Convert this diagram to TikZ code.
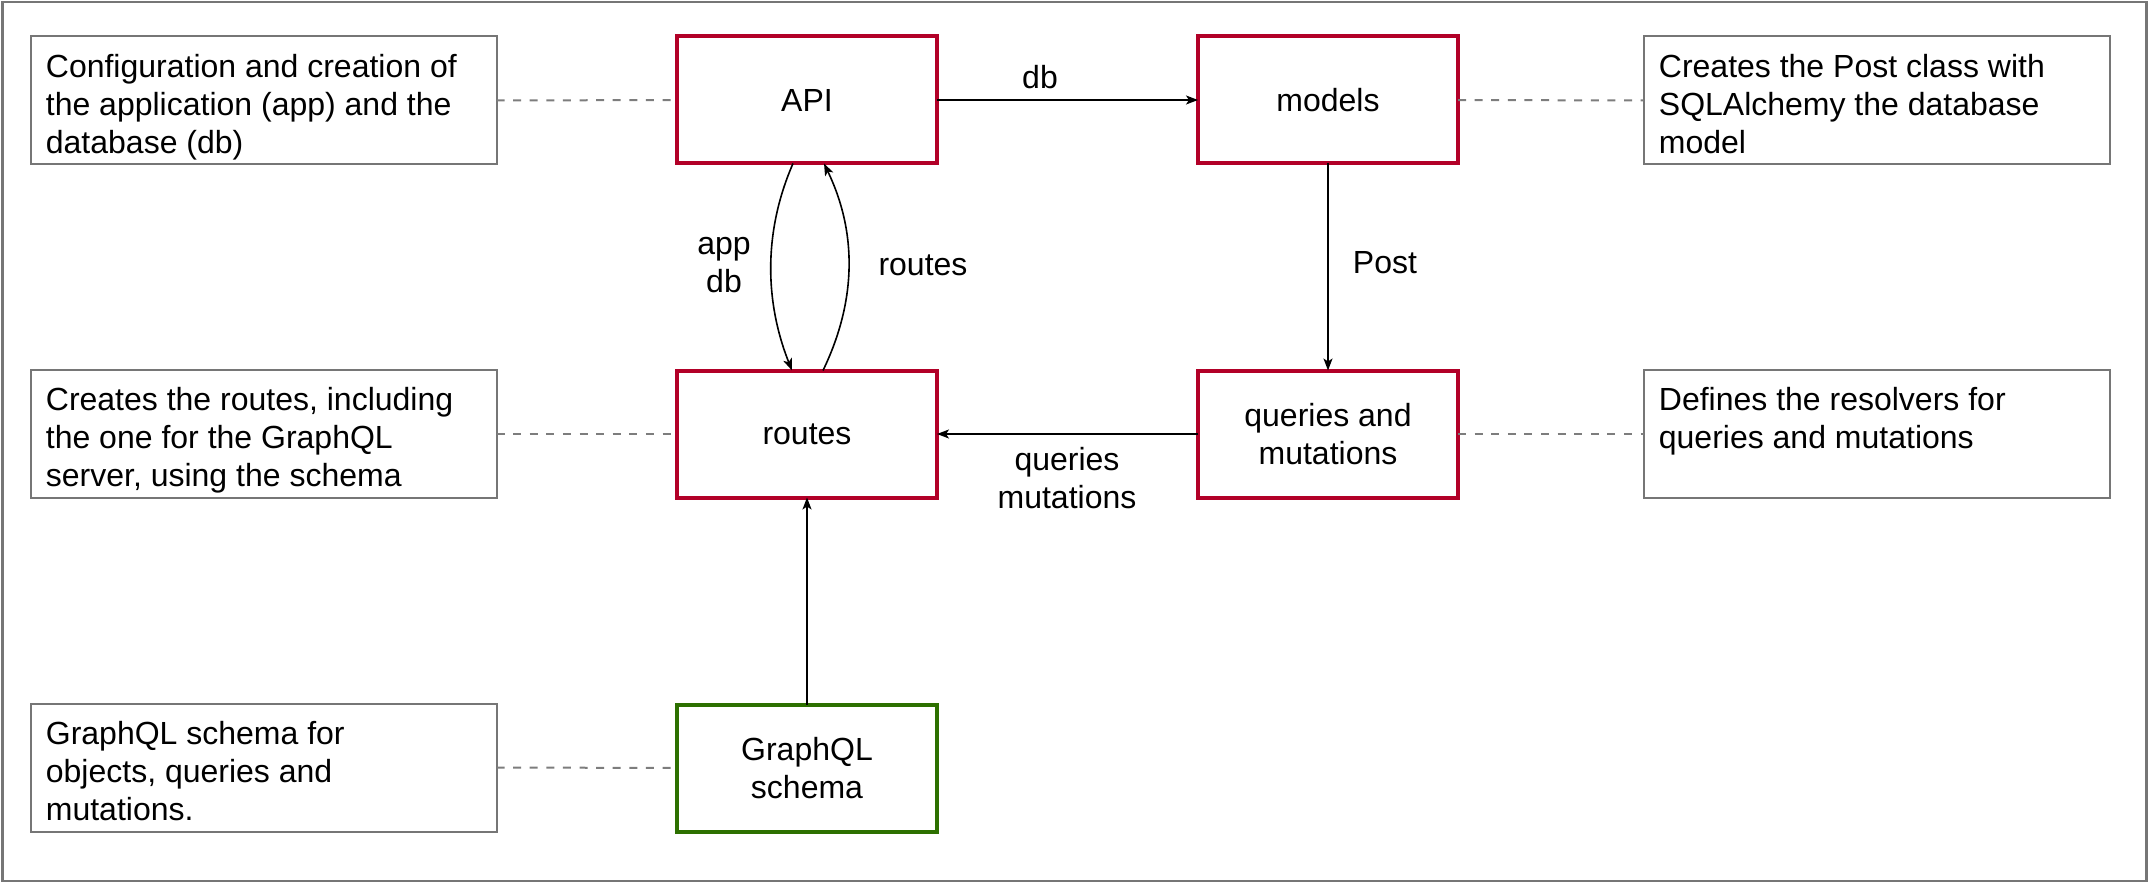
\documentclass[tikz,border=0pt]{standalone}
\usepackage{fontspec}
\setmainfont{Liberation Sans}
\usetikzlibrary{arrows.meta,calc}
\definecolor{boxred}{RGB}{178,0,40}
\definecolor{boxgreen}{RGB}{45,112,0}
\definecolor{framegray}{RGB}{118,118,118}
\definecolor{dashgray}{RGB}{125,125,125}
\tikzset{
  txt/.style={font=\fontsize{16pt}{19pt}\selectfont, text=black},
  mainbox/.style={draw=boxred, line width=2pt, fill=white, minimum width=130pt, minimum height=63.5pt, inner sep=0pt, outer sep=0pt, align=center, txt},
  greenbox/.style={mainbox, draw=boxgreen},
  notebox/.style={draw=framegray, line width=1pt, fill=white, minimum width=233pt, minimum height=64pt, inner sep=0pt, outer sep=0pt},
  notetext/.style={txt, align=left, anchor=north west, inner sep=0pt},
  lbl/.style={txt, align=center, inner sep=0pt},
  conn/.style={draw=black, line width=0.8pt, -{Stealth[length=6pt, width=4.5pt, inset=1.5pt]}},
  link/.style={draw=dashgray, line width=1pt, dash pattern=on 4pt off 4.3pt},
}
\begin{document}
\begin{tikzpicture}[x=0.5pt, y=-0.5pt]
\useasboundingbox (0,0) rectangle (2149,883);
\draw[framegray, line width=1.15pt] (2.6,2) rectangle (2146.4,881);

% main boxes
\node[mainbox] (api) at (807,100) {API};
\node[mainbox] (models) at (1328,100) {models};
\node[mainbox] (routes) at (807,434) {routes};
\node[mainbox] (qm) at (1328,434) {queries and\\mutations};
\node[greenbox] (schema) at (807,768) {GraphQL\\schema};

% notes
\node[notebox] (n1) at (263.5,100.5) {};
\node[notebox] (n2) at (263.5,434) {};
\node[notebox] (n3) at (263.5,767.5) {};
\node[notebox] (n4) at (1876.5,100.5) {};
\node[notebox] (n5) at (1876.5,434) {};

\node[notetext] (t1) at ($(n1.north west)+(15,17)$) {Configuration and creation of\\the application (app) and the\\database (db)};
\node[notetext] (t2) at ($(n2.north west)+(15,17)$) {Creates the routes, including\\the one for the GraphQL\\server, using the schema};
\node[notetext] (t3) at ($(n3.north west)+(15,17)$) {GraphQL schema for\\objects, queries and\\mutations.};
\node[notetext] (t4) at ($(n4.north west)+(15,17)$) {Creates the Post class with\\SQLAlchemy the database\\model};
\node[notetext] (t5) at ($(n5.north west)+(15,17)$) {Defines the resolvers for\\queries and mutations};

% dashed links
\draw[link] (n1.east) -- (api.west);
\draw[link] (n2.east) -- (routes.west);
\draw[link] (n3.east) -- (schema.west);
\draw[link] (models.east) -- (n4.west);
\draw[link] (qm.east) -- (n5.west);

% connectors
\draw[conn] (api.east) -- (models.west);
\draw[conn] (models.south) -- (qm.north);
\draw[conn] (qm.west) -- (routes.west -| routes.east);
\draw[conn] (schema.north) -- (routes.south);
\draw[conn] ($(api.south)+(-14,0)$) .. controls (764,230) and (764,300) .. ($(routes.north)+(-15,0)$);
\draw[conn] ($(routes.north)+(16,0)$) .. controls (857,300) and (857,232) .. ($(api.south)+(17,0)$);

% labels
\node[lbl] (ldb) at (1040,77) {db};
\node[lbl] (lpost) at (1385,263) {Post};
\node[lbl] (lappdb) at (724,265) {app\\db};
\node[lbl] (lroutes) at (923,265) {routes};
\node[lbl] (lqm) at (1067,478) {queries\\mutations};
\end{tikzpicture}
\end{document}
